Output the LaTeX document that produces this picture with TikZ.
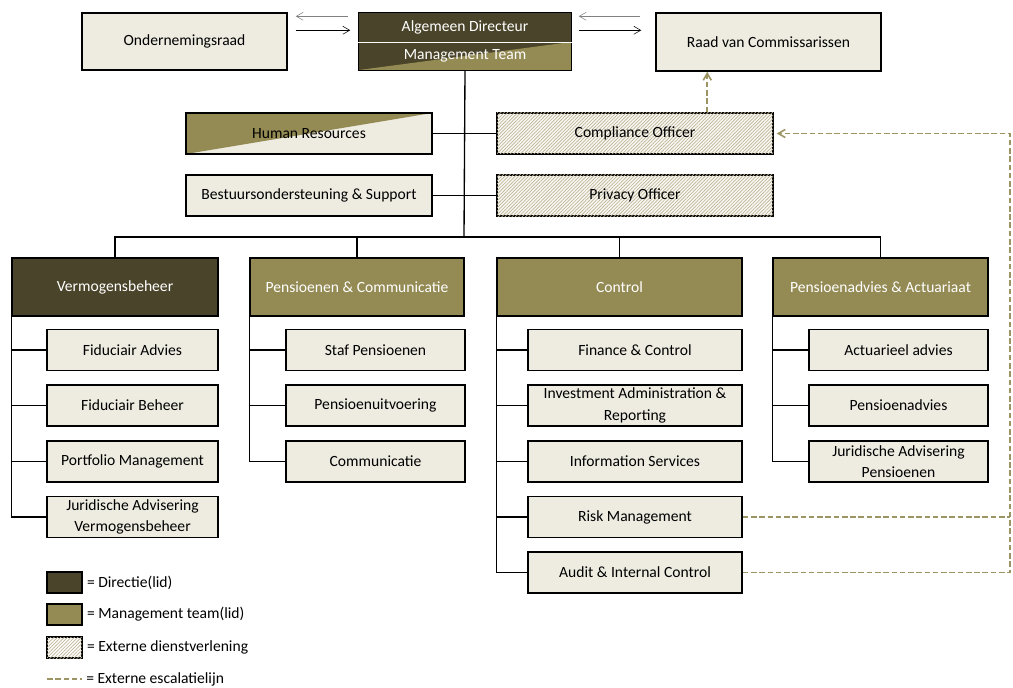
\documentclass[tikz,border=0pt]{standalone}
\usepackage{fontspec}
\setmainfont{Carlito}
\usetikzlibrary{arrows.meta,positioning,calc,patterns.meta}
\definecolor{donker}{HTML}{4A452A}
\definecolor{olijf}{HTML}{948A54}
\definecolor{zand}{HTML}{EEECE1}
\definecolor{arcering}{HTML}{BDB594}
\definecolor{escalatie}{HTML}{9C9462}
\tikzset{>={Straight Barb[angle=60:6pt]}}
\tikzset{
  sz/.style 2 args={minimum width=#1*0.75pt, minimum height=#2*0.75pt},
  unit/.style={draw, line width=1.1pt, fill=zand, align=center, inner sep=1pt,
    font=\fontsize{11.7}{16}\selectfont},
  dirbox/.style={unit, fill=donker, text=white},
  mtbox/.style={unit, fill=olijf, text=white},
  extbox/.style={unit, fill=white!60!zand, postaction={pattern={Lines[angle=45,distance=1.8pt,line width=0.5pt]}, pattern color=arcering}},
  lijn/.style={line width=1pt},
  escal/.style={draw=escalatie, line width=1.2pt, dash pattern=on 4.2pt off 2pt},
  legtext/.style={anchor=west, inner sep=3pt, font=\fontsize{11.7}{14}\selectfont}
}

\begin{document}
\begin{tikzpicture}[x=0.75pt,y=0.75pt,yscale=-1,xscale=1]
\path[use as bounding box] (0,0) rectangle (1013,688);

%Shape: Rectangle [top row]
\node[unit, sz={205}{57}] (or) at (184.5,41.5) {Ondernemingsraad};
\node[dirbox, draw=none, sz={212}{29}] (ad) at (465,27.5) {Algemeen Directeur};
\node[dirbox, draw=none, sz={212}{28},
  path picture={\fill[olijf] (path picture bounding box.south west) -- (path picture bounding box.north east) -- (path picture bounding box.south east) -- cycle;}]
  (mt) at (465,56) {Management Team};
\draw[line width=1.1pt] (ad.north west) rectangle (mt.south east);
\draw[white, line width=1pt] (ad.south west) -- (ad.south east);
\node[unit, sz={225}{58}] (rvc) at (768.5,42) {Raad van Commissarissen};

%Straight Lines [overleg]
\draw[<-, gray] ($(or.north east)+(8,4)$) -- ($(ad.north west)+(-10,4)$);
\draw[->] ($(or.north east)+(8,18)$) -- ($(ad.north west)+(-8,18)$);
\draw[<-, gray] ($(ad.north east)+(7,4)$) -- ($(rvc.north west)+(-15,4)$);
\draw[->] ($(ad.north east)+(7,18)$) -- ($(rvc.north west)+(-14,18)$);

%Shape: Rectangle [staf]
\node[unit, sz={246}{41},
  path picture={\fill[olijf] (path picture bounding box.north west) -- (path picture bounding box.north east) -- (path picture bounding box.south west) -- cycle;}]
  (hr) at (309,133.5) {Human Resources};
\node[extbox, sz={276}{41}] (co) at (635,133.5) {Compliance Officer};
\node[unit, sz={246}{41}] (bs) at (309,195.5) {Bestuursondersteuning \& Support};
\node[extbox, sz={276}{41}] (po) at (635,195.5) {Privacy Officer};

%Shape: Rectangle [afdelingen]
\node[dirbox, sz={206}{58}] (vb) at (115,287) {Vermogensbeheer};
\node[mtbox, sz={214}{58}] (pc) at (357,287) {Pensioenen \& Communicatie};
\node[mtbox, sz={245}{58}] (ctl) at (619.5,287) {Control};
\node[mtbox, sz={215}{58}] (pa) at (880.5,287) {Pensioenadvies \& Actuariaat};

%Shape: Rectangle [Vermogensbeheer]
\node[unit, sz={171}{41}] (fa) at (132.5,350) {Fiduciair Advies};
\node[unit, sz={171}{41}] (fb) at (132.5,405.5) {Fiduciair Beheer};
\node[unit, sz={171}{41}] (pm) at (132.5,461.5) {Portfolio Management};
\node[unit, sz={171}{41}] (jv) at (132.5,517) {Juridische Advisering\\Vermogensbeheer};

%Shape: Rectangle [Pensioenen & Communicatie]
\node[unit, sz={179}{41}] (sp) at (375.5,350) {Staf Pensioenen};
\node[unit, sz={179}{41}] (pu) at (375.5,405.5) {Pensioenuitvoering};
\node[unit, sz={179}{41}] (cm) at (375.5,461.5) {Communicatie};

%Shape: Rectangle [Control]
\node[unit, sz={214}{41}] (fc) at (635,350) {Finance \& Control};
\node[unit, sz={214}{41}] (iar) at (635,405.5) {Investment Administration \&\\Reporting};
\node[unit, sz={214}{41}] (is) at (635,461.5) {Information Services};
\node[unit, sz={214}{41}] (rm) at (635,517) {Risk Management};
\node[unit, sz={214}{41}] (aic) at (635,572.5) {Audit \& Internal Control};

%Shape: Rectangle [Pensioenadvies & Actuariaat]
\node[unit, sz={179}{41}] (aa) at (898.5,350) {Actuarieel advies};
\node[unit, sz={179}{41}] (pad) at (898.5,405.5) {Pensioenadvies};
\node[unit, sz={179}{41}] (jp) at (898.5,461.5) {Juridische Advisering\\Pensioenen};

%Straight Lines [hierarchie]
\coordinate (bus) at (464,237);
\draw[lijn] (mt.south) -- (bus);
\draw[lijn] (hr.east) -- (co.west);
\draw[lijn] (bs.east) -- (po.west);
\draw[lijn] (vb.north) |- (bus) -| (pa.north);
\draw[lijn] (pc.north) -- (pc.north |- bus);
\draw[lijn] (ctl.north) -- (ctl.north |- bus);
\foreach \s in {fa,fb,pm,jv} \draw[lijn] (vb.south west) |- (\s.west);
\foreach \s in {sp,pu,cm} \draw[lijn] (pc.south west) |- (\s.west);
\foreach \s in {fc,iar,is,rm,aic} \draw[lijn] (ctl.south west) |- (\s.west);
\foreach \s in {aa,pad,jp} \draw[lijn] (pa.south west) |- (\s.west);

%Straight Lines [escalatie]
\coordinate (esc) at ($(co.north west)+(211,0)$);
\coordinate (rail) at (1010,0);
\draw[escal, ->] (esc) -- (esc |- rvc.south);
\draw[escal] (rm.east) -- (rm.east -| rail);
\draw[escal, ->] (aic.east) -| (rail |- co.east) -- ($(co.east)+(3,0)$);

%Shape: Rectangle [legenda]
\node[dirbox, sz={35}{21}] (ldir) at (64.5,582.5) {};
\node[legtext] at (ldir.east) {= Directie(lid)};
\node[mtbox, sz={35}{21}] (lmt) at (64.5,614.5) {};
\node[legtext] at (lmt.east) {= Management team(lid)};
\node[extbox, fill=white, sz={35}{21}] (lext) at (64.5,647.5) {};
\node[legtext] at (lext.east) {= Externe dienstverlening};
\coordinate (lesca) at (47,679);
\coordinate (lescb) at (82,679);
\draw[escal] (lesca) -- (lescb);
\node[legtext] at (lescb) {= Externe escalatielijn};
\end{tikzpicture}
\end{document}
